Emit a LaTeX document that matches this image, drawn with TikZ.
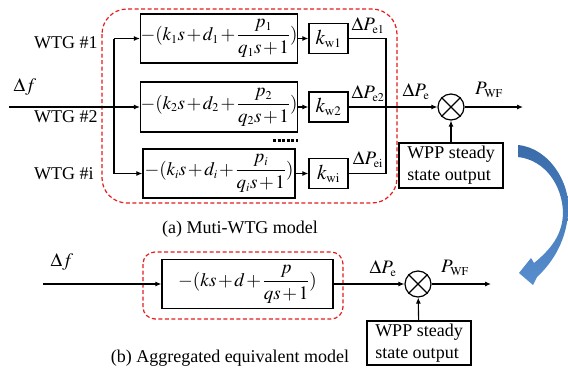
\documentclass[tikz,border=0pt]{standalone}
\usepackage{amsmath}
\usepackage{mathptmx}
\usepackage[no-math]{fontspec}
\setmainfont{Liberation Serif}
\usetikzlibrary{arrows.meta,calc}
\DeclareMathSizes{19}{19}{12}{9}
\DeclareMathSizes{21}{21}{13}{10}
\definecolor{arrowblue}{RGB}{88,142,206}
\definecolor{arrowbluedark}{RGB}{58,108,170}
\definecolor{dashred}{RGB}{228,28,28}
\newcommand{\eqfont}{\fontsize{19}{22}\selectfont\medmuskip=1.5mu\thinmuskip=1mu}
\begin{document}
\begin{tikzpicture}[x=1pt,y=-1pt,
  every node/.style={font=\fontsize{18}{22}\selectfont, inner sep=0pt},
  fbox/.style={draw, line width=1.3pt},
  eqbox/.style={fbox, font=\eqfont},
  kbox/.style={fbox, font=\fontsize{21}{22}\selectfont, minimum width=39pt, minimum height=30pt},
  sig/.style={font=\fontsize{19}{22}\selectfont},
  conn/.style={line width=1.1pt},
  arr/.style={conn, -{Latex[length=6pt,width=5pt]}},
  reddash/.style={draw=dashred, line width=1.2pt, dash pattern=on 4pt off 2.5pt},
  sumnode/.style={circle, draw, line width=1.2pt, minimum size=26pt}]
\useasboundingbox (0,0) rectangle (568,370);

% ---------- (a) multi-WTG model ----------
\draw[reddash, rounded corners=25pt] (102,9) rectangle (397,203);

\node[eqbox, minimum width=152pt, minimum height=49pt] (b1) at (219,38.5) {$-(k_1s+d_1+\dfrac{p_1}{q_1s+1})$};
\node[eqbox, minimum width=152pt, minimum height=50pt] (b2) at (219,107) {$-(k_2s+d_2+\dfrac{p_2}{q_2s+1})$};
\node[eqbox, minimum width=152pt, minimum height=49pt] (b3) at (219,173.5) {$-(k_is+d_i+\dfrac{p_i}{q_is+1})$};

\node[kbox] (k1) at (328.5,38.5) {$k_{\mathrm{w1}}$};
\node[kbox] (k2) at (328.5,107) {$k_{\mathrm{w2}}$};
\node[kbox] (k3) at (328.5,173.5) {$k_{\mathrm{wi}}$};

\node[anchor=west] (wtg1) at (34,43) {WTG \#1};
\node[anchor=west] (wtg2) at (34,117) {WTG \#2};
\node[anchor=west] (wtg3) at (34,174) {WTG \#i};
\node[sig] (df1) at (25,87) {$\Delta f$};

\coordinate (in1) at (9,107);
\coordinate (br) at (114,107);
\coordinate (col) at (386,107);

\draw[arr] (in1) -- (b2);
\draw[conn] (br |- b1) -- (br |- b3);
\draw[arr] (br |- b1) -- (b1);
\draw[arr] (br |- b3) -- (b3);
\draw[arr] (b1) -- (k1);
\draw[arr] (b2) -- (k2);
\draw[arr] (b3) -- (k3);
\draw[conn] (k1.east) -- (col |- k1) -- (col |- k3) -- (k3.east);

\node[sig] (pe1) at (368,26) {$\Delta P_{\mathrm{e1}}$};
\node[sig] (pe2) at (368,94) {$\Delta P_{\mathrm{e2}}$};
\node[sig] (pe3) at (368,160) {$\Delta P_{\mathrm{ei}}$};

\draw[line width=3pt, dash pattern=on 3pt off 1.6pt] (273,140) -- (298,140);

\node[sumnode] (s1) at (451,107) {};
\draw[line width=1.2pt] (s1.north west) -- (s1.south east) (s1.north east) -- (s1.south west);
\draw[arr] (k2.east) -- (s1);
\coordinate (out1) at (523,107);
\draw[arr] (s1) -- (out1);
\node[sig] (pe) at (416,92) {$\Delta P_{\mathrm{e}}$};
\node[sig] (pwf) at (489,90) {$P_{\mathrm{WF}}$};

\node[fbox, minimum width=104pt, minimum height=45pt, align=left] (w1) at (451,165.5) {WPP steady\\state output};
\draw[arr] (w1) -- (s1);

\node (capa) at (240,229) {(a) Muti-WTG model};

% ---------- blue curved arrow ----------
\path[top color=arrowbluedark, bottom color=arrowblue, draw=none]
  (518,145) .. controls (550,148) and (572,185) .. (568,215)
  .. controls (565,245) and (550,265) .. (537,277)
  -- (533,285) -- (519,273) -- (531,258) -- (534,263)
  .. controls (550,250) and (563,235) .. (563,212)
  .. controls (562,185) and (545,160) .. (518,157) -- cycle;

% ---------- (b) aggregated model ----------
\draw[reddash, rounded corners=12pt] (143,252) rectangle (343,319);
\node[eqbox, minimum width=171pt, minimum height=49pt] (bb) at (247.5,284) {$-(ks+d+\dfrac{p}{qs+1})$};
\node[sig] (df2) at (62,262) {$\Delta f$};
\coordinate (in2) at (43,284);
\draw[arr] (in2) -- (bb);

\node[sumnode] (s2) at (418,284) {};
\draw[line width=1.2pt] (s2.north west) -- (s2.south east) (s2.north east) -- (s2.south west);
\draw[arr] (bb) -- (s2);
\coordinate (out2) at (491,284);
\draw[arr] (s2) -- (out2);
\node[sig] (pe4) at (383,269) {$\Delta P_{\mathrm{e}}$};
\node[sig] (pwf2) at (455,268) {$P_{\mathrm{WF}}$};

\node[fbox, minimum width=104pt, minimum height=44pt, align=left] (w2) at (419,343) {WPP steady\\state output};
\draw[arr] (w2) -- (s2);

\node (capb) at (230,358) {(b) Aggregated equivalent model};
\end{tikzpicture}
\end{document}
